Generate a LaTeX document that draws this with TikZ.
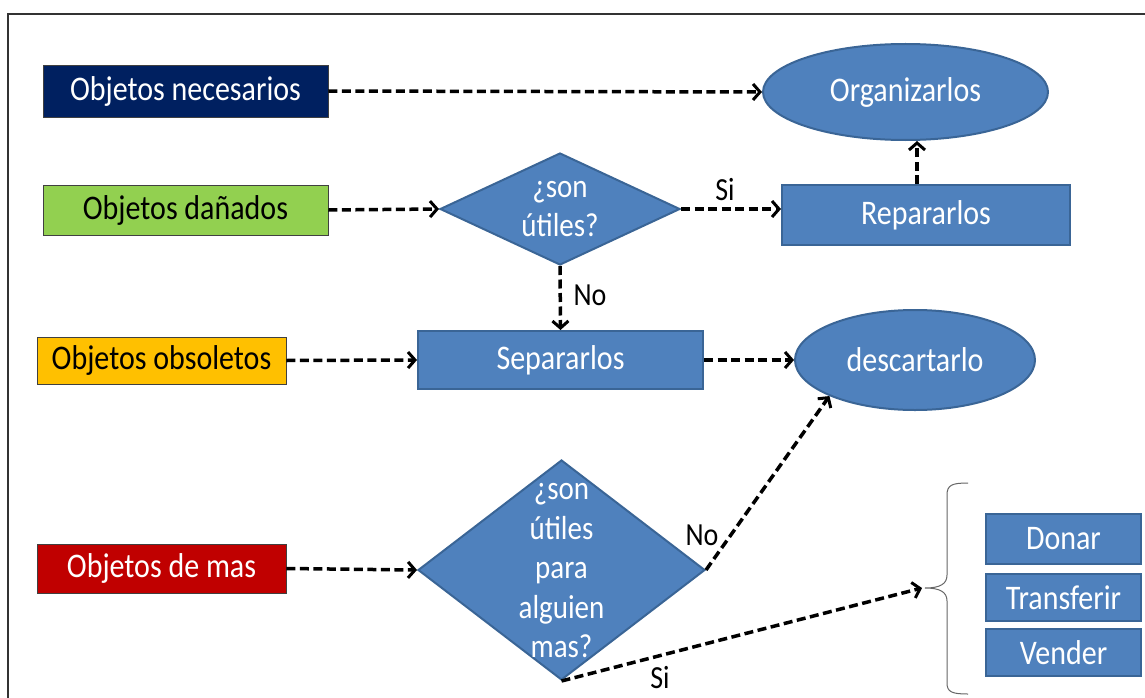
\documentclass[tikz,border=0pt]{standalone}
\usepackage{fontspec}
\usepackage{graphicx}
\setmainfont{Carlito}
\usetikzlibrary{shapes.geometric,arrows.meta}
\definecolor{boxblue}{HTML}{4F81BD}
\definecolor{edgeblue}{HTML}{3A6596}
\definecolor{navy}{HTML}{002060}
\definecolor{leafgreen}{HTML}{92D050}
\definecolor{amber}{HTML}{FFC000}
\definecolor{darkred}{HTML}{C00000}
% slightly tall lettering
\newcommand{\tallt}[1]{\scalebox{1}[1.15]{#1}}
\tikzset{
  srcbox/.style={draw=black!75, line width=0.8pt, minimum width=285pt, minimum height=52pt, inner sep=0pt, font=\fontsize{30}{36}\selectfont},
  bluebox/.style={draw=edgeblue, line width=2pt, fill=boxblue, text=white, inner sep=0pt, font=\fontsize{30}{36}\selectfont},
  blueoval/.style={bluebox, ellipse},
  bluediamond/.style={bluebox, diamond},
  flow/.style={draw=black, line width=3.5pt, dash pattern=on 9pt off 4.5pt, -{Straight Barb[length=7pt,width=16pt,line width=3pt]}},
  lbl/.style={font=\fontsize{28}{32}\selectfont, inner sep=0pt},
  dtext/.style={text=white, align=center, font=\fontsize{29}{39.5}\selectfont, inner sep=0pt}
}
\begin{document}
\begin{tikzpicture}[x=1pt,y=-1pt]
\useasboundingbox (0,0) rectangle (1145,698);
% outer frame
\draw[line width=1.6pt, black!80] (8,705) -- (8,14) -- (1150,14);

% input categories
\node[srcbox, fill=navy, text=white] (nec) at (185.5,91) {\tallt{Objetos necesarios}};
\node[srcbox, fill=leafgreen, minimum height=50pt] (dan) at (185.5,210) {\tallt{Objetos dañados}};
\node[srcbox, fill=amber, minimum width=249pt, minimum height=47pt] (obs) at (161.5,360.5) {\tallt{Objetos obsoletos}};
\node[srcbox, fill=darkred, text=white, minimum width=249pt, minimum height=49pt] (mas) at (161.5,568.5) {\tallt{Objetos de mas}};

% actions
\node[blueoval, minimum width=285pt, minimum height=96pt] (org) at (905.5,92) {\tallt{Organizarlos}};
\node[bluediamond, minimum width=240pt, minimum height=112pt] (d1) at (560,209) {};
\node[dtext] (d1t) at (560,209) {\tallt{¿son}\\\tallt{útiles?}};
\node[bluebox, minimum width=288pt, minimum height=60pt] (rep) at (926,215) {\tallt{Repararlos}};
\node[bluebox, minimum width=285pt, minimum height=58pt] (sep) at (560.5,360) {\tallt{Separarlos}};
\node[blueoval, minimum width=240pt, minimum height=100pt] (desc) at (915,360) {\tallt{descartarlo}};
\node[bluediamond, minimum width=287pt, minimum height=220pt] (d2) at (561.5,570) {};
\node[dtext] (d2t) at (561.5,571) {\tallt{¿son}\\\tallt{útiles}\\\tallt{para}\\\tallt{alguien}\\\tallt{mas?}};

% options
\node[bluebox, minimum width=155pt, minimum height=50pt] (don) at (1063.5,539) {\tallt{Donar}};
\node[bluebox, minimum width=155pt, minimum height=47pt] (tra) at (1063.5,597.5) {\tallt{Transferir}};
\node[bluebox, minimum width=155pt, minimum height=47pt] (ven) at (1063.5,652.5) {\tallt{Vender}};

% brace grouping the options
\coordinate (tip) at (925,588);
\draw[black!60, line width=1pt] (968,483) .. controls (952,483) and (947,485) .. (947,495)
  -- (947,575) .. controls (947,584) and (940,588) .. (tip)
  .. controls (940,588) and (947,592) .. (947,601)
  -- (947,683) .. controls (947,692) and (952,694) .. (968,694);

% connectors
\draw[flow] (nec.east) -- (org.west);
\draw[flow] (dan.east) -- (d1.west);
\draw[flow] (d1.east) -- (d1.east -| rep.west);
\draw[flow] ([xshift=-9pt]rep.north) -- ([xshift=-9pt]rep.north |- org.south);
\draw[flow] (d1.south) -- (sep.north);
\draw[flow] (obs.east) -- (sep.west);
\draw[flow] (sep.east) -- (desc.west);
\draw[flow] (mas.east) -- (d2.west);
\draw[flow] (d2.east) -- (desc.south west);
\draw[flow] (d2.south) -- ([xshift=-3pt]tip);

% branch labels
\node[lbl] (si1) at (725,190) {\tallt{Si}};
\node[lbl] (no1) at (590,295) {\tallt{No}};
\node[lbl] (no2) at (702,535) {\tallt{No}};
\node[lbl] (si2) at (660,678) {\tallt{Si}};
\end{tikzpicture}
\end{document}
